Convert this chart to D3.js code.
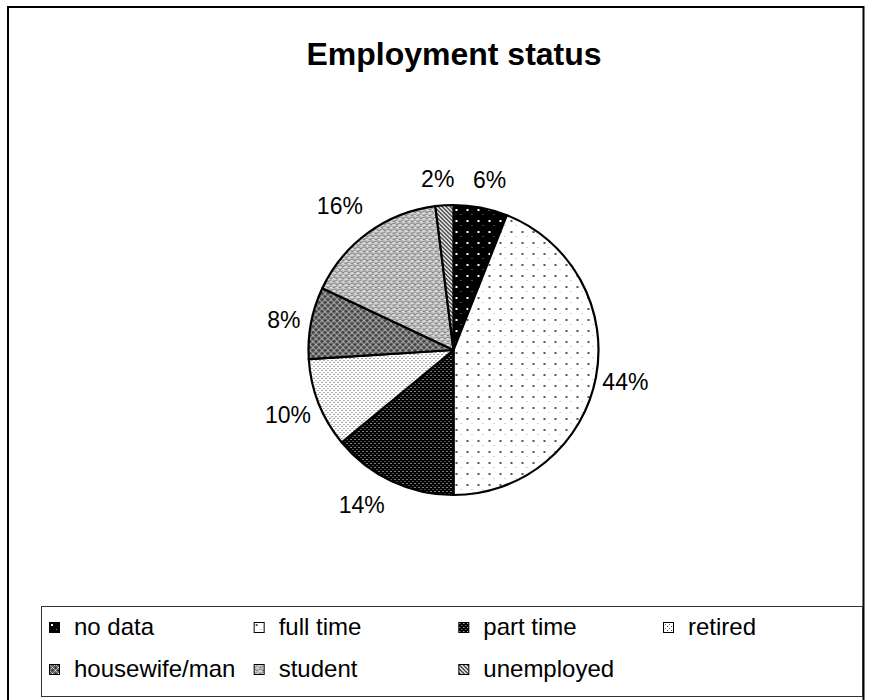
<!DOCTYPE html>
<html>
<head>
<meta charset="utf-8">
<script src="https://cdn.jsdelivr.net/npm/d3@7"></script>
<style>
  html, body { margin: 0; padding: 0; background: #fff; }
  svg { display: block; font-family: "Liberation Sans", Arial, sans-serif; }
</style>
</head>
<body>
<script>
// ---- data ----
const title = "Employment status";
const categories = ["no data", "full time", "part time", "retired", "housewife/man", "student", "unemployed"];
const values = [6, 44, 14, 10, 8, 16, 2];
const valueLabels = ["6%", "44%", "14%", "10%", "8%", "16%", "2%"];

// ---- layout (not data) ----
const W = 884, H = 700;
const cx = 453.5, cy = 350, R = 145;
const labelGap = 10;
const labelNudge = [[4, -8], [-3, 1], [-16, 6], [0, 4], [-1, 1], [-9, -11], [-5, -6]];
const patternIds = ["p-nodata", "p-fulltime", "p-parttime", "p-retired", "p-housewife", "p-student", "p-unemployed"];

const svg = d3.select("body").append("svg").attr("width", W).attr("height", H);
const defs = svg.append("defs");

function makePattern(id, size, bg, dots) {
  const p = defs.append("pattern").attr("id", id).attr("patternUnits", "userSpaceOnUse")
    .attr("width", size).attr("height", size);
  p.append("rect").attr("width", size).attr("height", size).attr("fill", bg);
  dots.forEach(d => p.append("rect").attr("x", d[0]).attr("y", d[1]).attr("width", d[2]).attr("height", d[3])
    .attr("fill", d[4]).attr("shape-rendering", "crispEdges"));
  return p;
}
// no data: black with sparse white dots
makePattern("p-nodata", 11, "#000", [[2, 2, 2, 2, "#fff"], [7, 7, 1, 1, "#888"]]);
// full time: white with sparse gray dots
makePattern("p-fulltime", 11, "#fff", [[2, 2, 2, 2, "#555"], [7, 7, 1, 1, "#aaa"]]);
// part time: dark with dense dots
makePattern("p-parttime", 4, "#000", [[1, 1, 1, 1, "#fff"], [3, 3, 1, 1, "#999"]]);
// retired: light with dense dots
makePattern("p-retired", 4, "#fff", [[0, 0, 1, 1, "#444"], [2, 2, 1, 1, "#666"], [1, 3, 1, 1, "#ddd"]]);
// housewife: dark crosshatch
makePattern("p-housewife", 6, "#5a5a5a", [[0, 0, 1, 1, "#fff"], [3, 3, 1, 1, "#fff"], [1, 1, 1, 1, "#bbb"], [2, 2, 1, 1, "#999"], [4, 4, 1, 1, "#bbb"], [5, 5, 1, 1, "#999"], [5, 1, 1, 1, "#bbb"], [1, 5, 1, 1, "#999"], [2, 4, 1, 1, "#bbb"], [4, 2, 1, 1, "#999"], [0, 3, 1, 1, "#222"], [3, 0, 1, 1, "#222"]]);
// student: light crosshatch
makePattern("p-student", 6, "#b8b8b8", [[0, 0, 1, 1, "#fff"], [3, 3, 1, 1, "#fff"], [1, 1, 1, 1, "#eee"], [2, 2, 1, 1, "#777"], [4, 4, 1, 1, "#eee"], [5, 5, 1, 1, "#777"], [5, 1, 1, 1, "#eee"], [1, 5, 1, 1, "#777"], [0, 3, 1, 1, "#555"], [3, 0, 1, 1, "#555"]]);
// unemployed: diagonal stripes
(function () {
  const p = defs.append("pattern").attr("id", "p-unemployed").attr("patternUnits", "userSpaceOnUse")
    .attr("width", 4).attr("height", 4);
  p.append("rect").attr("width", 4).attr("height", 4).attr("fill", "#fff");
  p.append("path").attr("d", "M-1,-1 L5,5 M-1,3 L1,5 M3,-1 L5,1").attr("stroke", "#000").attr("stroke-width", 1.2);
})();

// ---- frame ----
svg.append("rect").attr("x", 8).attr("y", 7).attr("width", 855.5).attr("height", 700)
  .attr("fill", "none").attr("stroke", "#000").attr("stroke-width", 2);

// ---- title ----
svg.append("text").attr("x", 454).attr("y", 65).attr("text-anchor", "middle")
  .attr("font-size", 32).attr("font-weight", "bold").attr("fill", "#000").text(title);

// ---- pie ----
const pie = d3.pie().sort(null).value(d => d.value);
const data = categories.map((c, i) => ({ cat: c, value: values[i], label: valueLabels[i], i }));
const arcs = pie(data);
const arc = d3.arc().innerRadius(0).outerRadius(R);
const g = svg.append("g").attr("transform", `translate(${cx},${cy})`);
g.selectAll("path.slice").data(arcs).enter().append("path")
  .attr("class", "slice")
  .attr("d", arc)
  .attr("fill", d => `url(#${patternIds[d.data.i]})`)
  .attr("stroke", "#000").attr("stroke-width", 2.2).attr("stroke-linejoin", "round");

// ---- labels ----
const fs = 23;
g.selectAll("text.lbl").data(arcs).enter().append("text")
  .attr("class", "lbl")
  .attr("font-size", fs)
  .attr("text-anchor", "middle")
  .attr("dy", "0.35em")
  .text(d => d.data.label)
  .each(function (d) {
    const w = this.getComputedTextLength();
    const h = 20;
    const th = (d.startAngle + d.endAngle) / 2;
    const s = Math.sin(th), c = -Math.cos(th);
    const n = labelNudge[d.data.i];
    const x = (R + labelGap) * s + (w / 2) * s + n[0];
    const y = (R + labelGap) * c + (h / 2) * c + n[1];
    d3.select(this).attr("x", x).attr("y", y);
  });

// ---- legend ----
const lg = svg.append("g");
lg.append("rect").attr("x", 41.5).attr("y", 606.5).attr("width", 821).attr("height", 90)
  .attr("fill", "#fff").attr("stroke", "#333").attr("stroke-width", 1);
const colX = d3.scalePoint().domain([0, 1, 2, 3]).range([49, 663]);
const rowY = d3.scalePoint().domain([0, 1]).range([622, 664]);
const items = lg.selectAll("g.item").data(data).enter().append("g").attr("class", "item")
  .attr("transform", (d, i) => `translate(${colX(i % 4)},${rowY(Math.floor(i / 4))})`);
items.append("rect").attr("x", 0.5).attr("y", 0.5).attr("width", 10).attr("height", 10)
  .attr("fill", d => `url(#${patternIds[d.i]})`).attr("stroke", "#000").attr("stroke-width", 1);
items.append("text").attr("x", 25).attr("y", 13).attr("font-size", 24).attr("fill", "#000").text(d => d.cat);
</script>
</body>
</html>
